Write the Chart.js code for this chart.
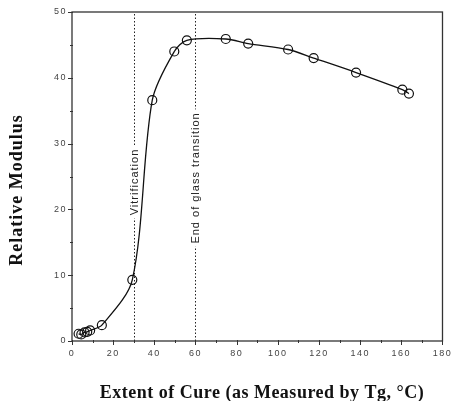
<!DOCTYPE html>
<html>
<head>
<meta charset="utf-8">
<script src="https://cdn.jsdelivr.net/npm/chart.js@4/dist/chart.umd.min.js"></script>
<style>
  html, body { margin: 0; padding: 0; background: #fff; }
  #wrap { width: 457px; height: 401px; }
</style>
</head>
<body>
<div id="wrap"><canvas id="cureChart" width="457" height="401"></canvas></div>
<script>
// measured points: Tg (°C) vs relative modulus
const cureTg = [3.2, 4.5, 6.1, 7.4, 8.8, 14.5, 29.3, 39.0, 49.7, 55.8, 74.7, 85.6, 105, 117.4, 138, 160.5, 163.7];
const modulus = [1.1, 1.0, 1.3, 1.4, 1.6, 2.4, 9.3, 36.6, 44.0, 45.7, 45.9, 45.2, 44.3, 43.0, 40.8, 38.2, 37.6];

// reference lines
const markerTg = [30, 60];
const markerLabels = ['Vitrification', 'End of glass transition'];

const xTitle = 'Extent of Cure (as Measured by Tg, °C)';
const yTitle = 'Relative Modulus';

const points = cureTg.map((t, i) => ({ x: t, y: modulus[i] }));

const INK = '#222';

const decorations = {
  id: 'decorations',
  beforeDraw(chart) {
    const ctx = chart.ctx;
    ctx.save();
    ctx.fillStyle = '#fff';
    ctx.fillRect(0, 0, chart.width, chart.height);
    ctx.restore();
    ctx.letterSpacing = '1.5px'; // spaced tick numerals
  },
  beforeDatasetsDraw(chart) {
    const { ctx, chartArea: a, scales: { x } } = chart;
    ctx.save();
    ctx.letterSpacing = '0px';
    ctx.strokeStyle = INK;
    ctx.lineWidth = 1;
    ctx.setLineDash([1.5, 2]);
    markerTg.forEach(v => {
      const px = Math.round(x.getPixelForValue(v)) + 0.5;
      ctx.beginPath();
      ctx.moveTo(px, a.bottom);
      ctx.lineTo(px, a.top + 2);
      ctx.stroke();
    });
    ctx.restore();
  },
  afterDatasetsDraw(chart) {
    const { ctx, chartArea: a, scales: { x, y } } = chart;
    ctx.save();

    // rotated labels sitting on the dotted lines
    ctx.font = '11px "Liberation Sans", Arial, sans-serif';
    ctx.letterSpacing = '1px';
    ctx.textAlign = 'center';
    ctx.textBaseline = 'middle';
    const labelMid = [182, 178];
    markerTg.forEach((v, i) => {
      const px = Math.round(x.getPixelForValue(v)) + 0.5;
      const w = ctx.measureText(markerLabels[i]).width;
      ctx.save();
      ctx.translate(px, labelMid[i]);
      ctx.rotate(-Math.PI / 2);
      ctx.fillStyle = '#fff';
      ctx.fillRect(-w / 2 - 3, -5, w + 6, 10);
      ctx.fillStyle = INK;
      ctx.fillText(markerLabels[i], 0, 0.5);
      ctx.restore();
    });

    // frame
    ctx.letterSpacing = '0px';
    ctx.strokeStyle = '#333';
    ctx.lineWidth = 1.3;
    ctx.strokeRect(a.left, a.top, a.right - a.left, a.bottom - a.top);

    // tick marks, major and minor
    ctx.lineWidth = 1;
    ctx.beginPath();
    for (let v = 0; v <= 180; v += 10) {
      const px = Math.round(x.getPixelForValue(v)) + 0.5;
      const len = v % 20 === 0 ? 4 : 2;
      ctx.moveTo(px, a.bottom - 1);
      ctx.lineTo(px, a.bottom + len);
    }
    for (let v = 0; v <= 50; v += 5) {
      const py = Math.round(y.getPixelForValue(v)) + 0.5;
      const len = v % 10 === 0 ? 4 : 2;
      ctx.moveTo(a.left + 1, py);
      ctx.lineTo(a.left - len, py);
    }
    ctx.stroke();

    // axis titles
    ctx.fillStyle = '#111';
    ctx.font = 'bold 18px "Liberation Serif", "Times New Roman", serif';
    ctx.letterSpacing = '0.5px';
    ctx.textAlign = 'center';
    ctx.textBaseline = 'middle';
    ctx.fillText(xTitle, 262, 393);

    ctx.save();
    ctx.translate(17, 190);
    ctx.rotate(-Math.PI / 2);
    ctx.letterSpacing = '1px';
    ctx.fillText(yTitle, 0, 0);
    ctx.restore();

    ctx.restore();
  },
  afterDraw(chart) {
    chart.ctx.letterSpacing = '0px';
  }
};

new Chart(document.getElementById('cureChart'), {
  type: 'scatter',
  data: {
    datasets: [{
      data: points,
      showLine: true,
      tension: 0.3,
      borderColor: '#111',
      borderWidth: 1.3,
      pointRadius: 4.5,
      pointBorderWidth: 1.2,
      pointBorderColor: '#111',
      pointBackgroundColor: 'rgba(0,0,0,0)'
    }]
  },
  options: {
    responsive: false,
    animation: false,
    events: [],
    layout: { padding: { top: 12, right: 9, left: 0, bottom: 0 } },
    plugins: { legend: { display: false }, tooltip: { enabled: false } },
    scales: {
      x: {
        type: 'linear',
        min: 0,
        max: 180,
        border: { display: false },
        grid: { display: false, drawTicks: false },
        ticks: {
          stepSize: 20,
          padding: 7,
          color: '#444',
          font: { family: '"Liberation Sans", Arial, sans-serif', size: 9 },
          maxRotation: 0
        },
        afterFit(scale) { scale.height = 60; }
      },
      y: {
        min: 0,
        max: 50,
        border: { display: false },
        grid: { display: false, drawTicks: false },
        ticks: {
          stepSize: 10,
          padding: 5,
          color: '#444',
          font: { family: '"Liberation Sans", Arial, sans-serif', size: 9 }
        },
        afterFit(scale) { scale.width = 72; }
      }
    }
  },
  plugins: [decorations]
});
</script>
</body>
</html>
